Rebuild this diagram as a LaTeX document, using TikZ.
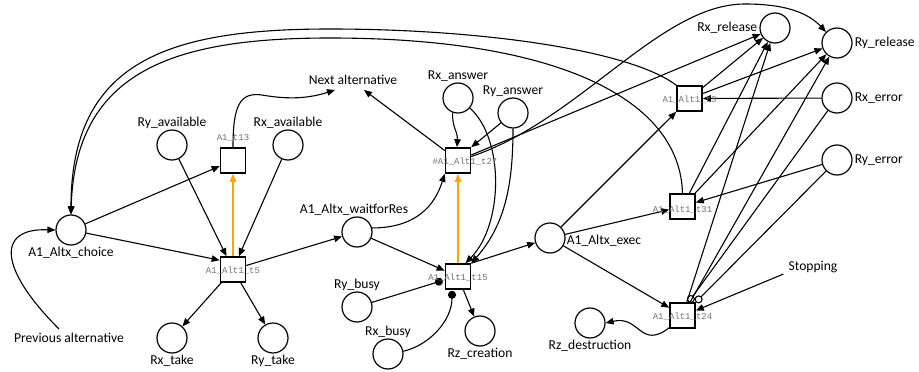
\documentclass[tikz,border=0pt]{standalone}
\usepackage{fontspec}
\setmainfont{Carlito}
\newfontfamily\monofam{Liberation Mono}
\usetikzlibrary{positioning}
\usetikzlibrary {arrows.meta}
\definecolor{prio}{RGB}{255,165,0}
\tikzset{place/.style={circle,draw=black,line width=1.2pt,fill=white,
inner sep=0pt,minimum size=30pt}}
\tikzset{trans/.style={rectangle,draw=black,line width=1.6pt,fill=white,
inner sep=0pt,minimum size=25pt}}
\tikzset{tname/.style={font=\monofam\fontsize{9}{10}\selectfont,text=black!55,
inner sep=0pt}}
\tikzset{plabel/.style={font=\fontsize{13.6}{16}\selectfont,inner sep=1pt}}
\tikzset{flowarc/.style={line width=1.1pt,-{Triangle[length=8pt,width=6.5pt]}}}
\tikzset{prioarc/.style={line width=1.4pt,draw=prio,-{Triangle[length=8pt,width=6.5pt]}}}
\tikzset{testarc/.style={line width=1.1pt,-{Circle[length=8pt]}}}
\tikzset{inhibarc/.style={line width=1.1pt,-{Circle[open,length=8pt]}}}

\begin{document}
\begin{tikzpicture}[x=1pt,y=1pt]
        \useasboundingbox (0,0) rectangle (919,-372);

        % places
        \node[place] (choice) at (71,-230) {};
        \node[place] (ryav) at (172,-145) {};
        \node[place] (rxav) at (288,-145) {};
        \node[place] (rxtake) at (172,-338) {};
        \node[place] (rytake) at (273,-338) {};
        \node[place] (wait) at (357,-232) {};
        \node[place] (rxans) at (458,-98) {};
        \node[place] (ryans) at (513,-113) {};
        \node[place] (rybusy) at (357,-307) {};
        \node[place] (rxbusy) at (388,-354) {};
        \node[place] (rzcre) at (480,-331) {};
        \node[place] (exec) at (550,-238) {};
        \node[place] (rzdes) at (590,-323) {};
        \node[place] (rxrel) at (775,-28) {};
        \node[place] (ryrel) at (837,-43) {};
        \node[place] (rxerr) at (837,-98) {};
        \node[place] (ryerr) at (837,-160) {};

        % transitions
        \node[trans] (t13) at (233,-160.5) {};
        \node[trans] (t5) at (233,-269.5) {};
        \node[trans] (t27) at (458,-160.5) {};
        \node[trans] (t15) at (458,-276.5) {};
        \node[trans] (t3) at (689.5,-98.5) {};
        \node[trans] (t31) at (682.5,-206.5) {};
        \node[trans] (t24) at (682.5,-315.5) {};

        % place labels
        \node[plabel] (choicelbl) [below=0pt of choice] {A1\_Altx\_choice};
        \node[plabel] (ryavlbl) [above=0pt of ryav] {Ry\_available};
        \node[plabel] (rxavlbl) [above=0pt of rxav] {Rx\_available};
        \node[plabel] (rxtakelbl) [below=0pt of rxtake] {Rx\_take};
        \node[plabel] (rytakelbl) [below=0pt of rytake] {Ry\_take};
        \node[plabel] (waitlbl) [above=0pt of wait, xshift=-3pt] {A1\_Altx\_waitforRes};
        \node[plabel] (rxanslbl) [above=0pt of rxans] {Rx\_answer};
        \node[plabel] (ryanslbl) [above=0pt of ryans] {Ry\_answer};
        \node[plabel] (rybusylbl) [above=0pt of rybusy] {Ry\_busy};
        \node[plabel] (rxbusylbl) [above=0pt of rxbusy] {Rx\_busy};
        \node[plabel] (rzcrelbl) [below=0pt of rzcre] {Rz\_creation};
        \node[plabel] (execlbl) [right=0pt of exec, yshift=-3pt] {A1\_Altx\_exec};
        \node[plabel] (rzdeslbl) [below=0pt of rzdes] {Rz\_destruction};
        \node[plabel] (rxrellbl) [left=1pt of rxrel] {Rx\_release};
        \node[plabel] (ryrellbl) [right=1pt of ryrel] {Ry\_release};
        \node[plabel] (rxerrlbl) [right=1pt of rxerr] {Rx\_error};
        \node[plabel] (ryerrlbl) [right=1pt of ryerr] {Ry\_error};

        % free texts
        \node[plabel] (prevalt) at (69,-338) {Previous alternative};
        \node[plabel] (nextalt) at (353,-80) {Next alternative};
        \node[plabel] (stopping) at (813,-267) {Stopping};

        % arcs
        \draw[flowarc] (choice) -- (t13);
        \draw[flowarc] (choice) -- ([yshift=-4pt]t5.north west);
        \draw[flowarc] ([xshift=-10pt,yshift=3pt]prevalt.north) .. controls (0,-270) and (-5,-228) .. (choice.west);
        \draw[flowarc] (ryav) -- (t5);
        \draw[flowarc] (rxav) -- (t5);
        \draw[prioarc] (t5) -- (t13);
        \draw[flowarc] (t13.north) .. controls (233,-105) and (240,-92) .. (262,-95)
            .. controls (290,-100) and (310,-98) .. ([xshift=-18pt,yshift=-4pt]nextalt.south);
        \draw[flowarc] (t5) -- (rxtake);
        \draw[flowarc] (t5) -- (rytake);
        \draw[flowarc] (t5) -- (wait);

        \draw[flowarc] (wait.15) .. controls (425,-228) and (438,-195) .. (t27.south west);
        \draw[flowarc] (wait) -- (t15);
        \draw[flowarc] (t27) -- ([xshift=11pt,yshift=-4pt]nextalt.south);
        \draw[flowarc] (rxans.250) .. controls (452,-128) and (458,-132) .. ([xshift=-1pt]t27.north);
        \draw[flowarc] (ryans) -- (t27.north east);
        \draw[flowarc] (rxans.-40) .. controls (505,-140) and (503,-225) .. ([xshift=7.5pt]t15.north);
        \draw[flowarc] (ryans.south) .. controls (513,-185) and (505,-225) .. (t15.north east);
        \draw[prioarc] (t15) -- (t27);
        \draw[testarc] (rybusy) -- ([xshift=-2pt,yshift=-4pt]t15.west);
        \draw[testarc] (rxbusy.10) .. controls (430,-345) and (452,-320) .. ([xshift=-6pt,yshift=-1pt]t15.south);
        \draw[flowarc] (t15) -- (rzcre);
        \draw[flowarc] (t15.north east) -- (exec);

        \draw[flowarc] (exec) -- (t3);
        \draw[flowarc] (exec) -- (t31);
        \draw[flowarc] (exec) -- (t24);
        \draw[flowarc] ([yshift=1pt]t24.south west) .. controls (640,-350) and (640,-315) .. (rzdes.east);

        % back to the choice
        \draw[flowarc] (t3.north west) .. controls (630,-50) and (480,-29) .. (330,-29)
            .. controls (170,-29) and (71,-60) .. (choice.north);
        \draw[flowarc] (t31.north) .. controls (680,-100) and (560,-38) .. (330,-38)
            .. controls (175,-38) and (75,-70) .. (choice.north);

        % releases
        \draw[flowarc] (t27) -- (rxrel);
        \draw[flowarc] ([yshift=4pt]t27.east) .. controls (580,-120) and (660,-4) .. (745,-4)
            .. controls (790,-4) and (810,-15) .. (ryrel.north west);
        \draw[flowarc] (t3) -- (rxrel);
        \draw[flowarc] (t3) -- (ryrel);
        \draw[flowarc] (rxerr) -- (t3);
        \draw[flowarc] (t31) -- (rxrel);
        \draw[flowarc] (t31) -- (ryrel);
        \draw[flowarc] (ryerr) -- (t31);
        \draw[flowarc] (t24) -- (rxrel);
        \draw[flowarc] (t24) -- (ryrel);
        \draw[inhibarc] (rxerr) -- ([xshift=6pt]t24.north);
        \draw[inhibarc] (ryerr) -- (t24.north east);
        \draw[flowarc] ([xshift=-4pt]stopping.south west) -- ([yshift=5pt]t24.east);

        % transition names
        \node[tname] (t13name) [above=6pt of t13] {A1\_t13};
        \node[tname] (t5name) at ([yshift=-1.5pt]t5.center) {A1\_Alt1\_t5};
        \node[tname] (t27name) at ([xshift=7pt,yshift=-1.5pt]t27.center) {\#A1\_Alt1\_t27};
        \node[tname] (t15name) at ([yshift=-1.5pt]t15.center) {A1\_Alt1\_t15};
        \node[tname] (t3name) at ([yshift=-1.5pt]t3.center) {A1\_Alt1\_t3};
        \node[tname] (t31name) at ([yshift=-3pt]t31.center) {A1\_Alt1\_t31};
        \node[tname] (t24name) at ([yshift=-1.5pt]t24.center) {A1\_Alt1\_t24};

    \end{tikzpicture}
\end{document}
